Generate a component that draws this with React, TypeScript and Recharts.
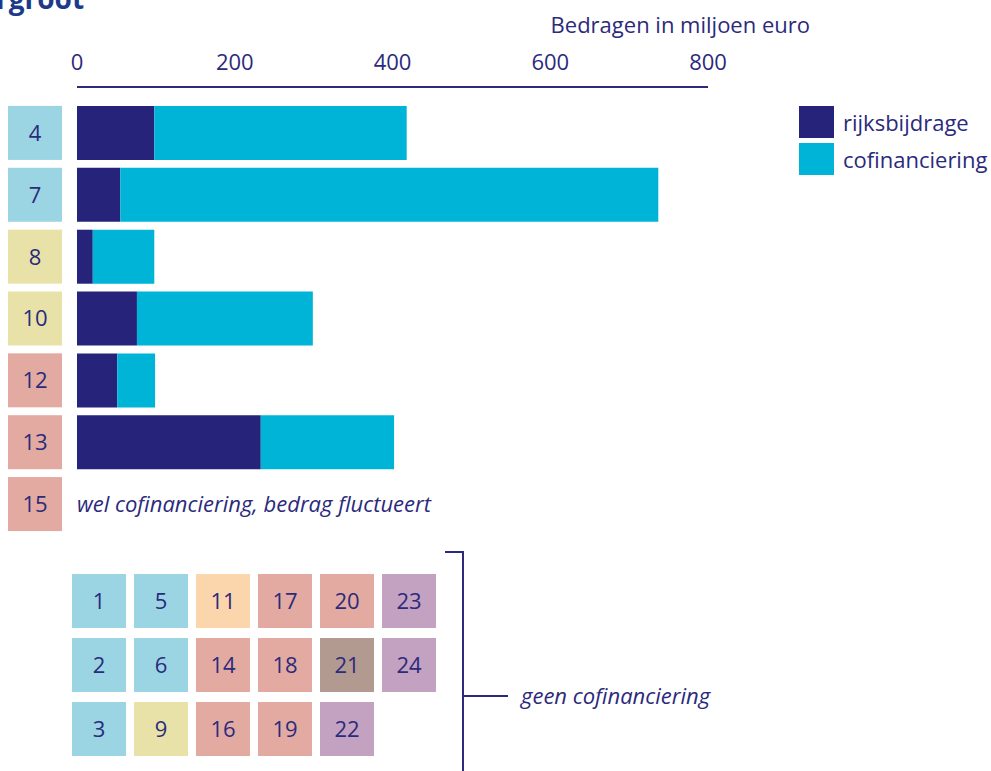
import { BarChart, Bar, XAxis, YAxis, Legend } from "recharts";

// projects with cofinancing (rows), amounts in million euro
const categories = ["4", "7", "8", "10", "12", "13", "15"];
const rijksbijdrage = [98, 55, 20, 76, 51, 233, null];
const cofinanciering = [320, 682, 78, 223, 48, 169, null];
const xTicks = [0, 200, 400, 600, 800];
const legendOrder = ["rijksbijdrage", "cofinanciering"];

// projects without cofinancing, per column
const noCofinColumns = [
  ["1", "2", "3"],
  ["5", "6", "9"],
  ["11", "14", "16"],
  ["17", "18", "19"],
  ["20", "21", "22"],
  ["23", "24"],
];

const INK = "#2b2a7c";
const DARK = "#25247a";
const CYAN = "#00b4d8";
const FONT = "'Open Sans', sans-serif";

const boxColor = (n: string) => {
  const v = Number(n);
  if (v <= 7) return "#9bd5e4";
  if (v === 8 || v === 9 || v === 10) return "#e8e2a8";
  if (v === 11) return "#fbd5ac";
  if (v === 21) return "#b39a91";
  if (v >= 22) return "#c3a1c1";
  return "#e3aaa1";
};

const data = categories.map((name, i) => ({
  name,
  rijksbijdrage: rijksbijdrage[i],
  cofinanciering: cofinanciering[i],
}));

function RowTick(props: any) {
  const { y, payload } = props;
  const label = payload.value as string;
  return (
    <g>
      <rect x={8} y={y - 27} width={54} height={54} fill={boxColor(label)} />
      <text x={35} y={y} dy="0.36em" textAnchor="middle" fill={INK} fontSize={22} fontFamily={FONT}>
        {label}
      </text>
      {label === "15" && (
        <text x={77} y={y} dy="0.36em" fill={INK} fontSize={22} fontStyle="italic" fontFamily={FONT}>
          wel cofinanciering, bedrag fluctueert
        </text>
      )}
    </g>
  );
}

function LegendBox(props: any) {
  const items = [...(props.payload || [])].sort(
    (a: any, b: any) => legendOrder.indexOf(a.value) - legendOrder.indexOf(b.value)
  );
  return (
    <div style={{ fontFamily: FONT }}>
      {items.map((it: any) => (
        <div key={it.value} style={{ display: "flex", alignItems: "center", height: 32, marginBottom: 5 }}>
          <div style={{ width: 35, height: 32, background: it.color, marginRight: 9 }} />
          <span style={{ color: INK, fontSize: 22, whiteSpace: "nowrap" }}>{it.value}</span>
        </div>
      ))}
    </div>
  );
}

export default function App() {
  return (
    <div style={{ position: "absolute", left: 0, top: 0, width: 991, height: 771, background: "#fff", overflow: "hidden" }}>
      <BarChart
        width={991}
        height={771}
        data={data}
        layout="vertical"
        margin={{ top: 57, right: 283, bottom: 236, left: 0 }}
        barSize={54}
      >
        <XAxis
          type="number"
          orientation="top"
          domain={[0, 800]}
          ticks={xTicks}
          height={30}
          axisLine={{ stroke: INK, strokeWidth: 2 }}
          tickLine={false}
          tickMargin={11}
          tick={{ fill: INK, fontSize: 22, fontFamily: FONT }}
        />
        <YAxis
          type="category"
          dataKey="name"
          width={77}
          axisLine={false}
          tickLine={false}
          padding={{ top: 15, bottom: 0 }}
          tick={<RowTick />}
        />
        <Legend
          layout="horizontal"
          verticalAlign="middle"
          align="center"
          content={<LegendBox />}
          wrapperStyle={{ top: 106, left: 799, width: "auto", height: "auto" }}
        />
        <Bar dataKey="rijksbijdrage" name="rijksbijdrage" stackId="a" fill={DARK} isAnimationActive={false} />
        <Bar dataKey="cofinanciering" name="cofinanciering" stackId="a" fill={CYAN} isAnimationActive={false} />
      </BarChart>
      <svg width={991} height={771} style={{ position: "absolute", left: 0, top: 0, pointerEvents: "none" }}>
        <text x={-4} y={9} fill="#1d3a8a" fontSize={28} fontWeight="bold" fontFamily={FONT}>
          rgroot
        </text>
        <text x={810} y={25} dy="0.36em" textAnchor="end" fill={INK} fontSize={22} fontFamily={FONT}>
          Bedragen in miljoen euro
        </text>
        {noCofinColumns.map((col, ci) =>
          col.map((n, ri) => (
            <g key={n}>
              <rect x={72 + ci * 62} y={574 + ri * 64} width={54} height={54} fill={boxColor(n)} />
              <text
                x={99 + ci * 62}
                y={601 + ri * 64}
                dy="0.36em"
                textAnchor="middle"
                fill={INK}
                fontSize={22}
                fontFamily={FONT}
              >
                {n}
              </text>
            </g>
          ))
        )}
        <path d="M445 552 H463 V771 M463 696 H508" fill="none" stroke={INK} strokeWidth={2} />
        <text x={521} y={696} dy="0.36em" fill={INK} fontSize={22} fontStyle="italic" fontFamily={FONT}>
          geen cofinanciering
        </text>
      </svg>
    </div>
  );
}
